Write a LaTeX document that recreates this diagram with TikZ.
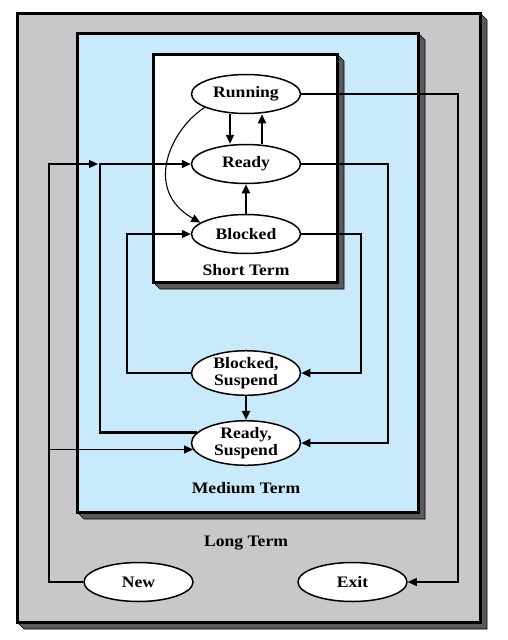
\documentclass[tikz,border=0pt]{standalone}
\usepackage{fontspec}
\setmainfont{Liberation Serif}[FakeStretch=1.1]
\usetikzlibrary{shapes.geometric,arrows.meta}
\definecolor{greybg}{HTML}{C8C8CA}
\definecolor{bluebg}{HTML}{C8EAFA}
\definecolor{shadowc}{HTML}{5A5A5A}
\begin{document}
\begin{tikzpicture}[x=1pt,y=-1pt,
  st/.style={ellipse, draw=black, line width=1.5pt, fill=white, minimum width=109pt, minimum height=39pt, inner sep=0pt, align=center, font=\bfseries\fontsize{16}{17}\selectfont},
  lbl/.style={font=\bfseries\fontsize{16}{17}\selectfont, inner sep=0pt},
  thk/.style={line width=2.2pt, -{Triangle[length=9pt,width=8pt]}},
  thn/.style={line width=1.1pt, -{Triangle[length=9pt,width=8pt]}},
  boxb/.style={draw=black, line width=3pt},
  shd/.style={fill=shadowc, draw=black, line width=0.6pt}
]
\useasboundingbox (0,0) rectangle (508,640);
\fill[white] (0,0) rectangle (508,640);
% outer box
\draw[shd] (480,13) -- (487,20) -- (487,629) -- (24,629) -- (17,622) -- cycle;
\draw[boxb, fill=greybg] (17,13) rectangle (480,622);
% medium box
\draw[shd] (418,33) -- (425,40) -- (425,519) -- (84,519) -- (77,512) -- cycle;
\draw[boxb, fill=bluebg] (77,33) rectangle (418,512);
% short box
\draw[shd] (337,54) -- (344,61) -- (344,289) -- (160,289) -- (153,282) -- cycle;
\draw[boxb, fill=white] (153,54) rectangle (337,282);

\node[lbl] (lst) at (246,270) {Short Term};
\node[lbl] (lmt) at (246,488) {Medium Term};
\node[lbl] (llt) at (246,543) {Long Term};

\node[st] (run) at (246,94) {Running};
\node[st] (rdy) at (246,164) {Ready};
\node[st] (blk) at (246,234) {Blocked};
\node[st] (bsus) at (246,373) {Blocked,\\Suspend};
\node[st] (rsus) at (246,443) {Ready,\\Suspend};
\node[st] (new) at (138.5,582) {New};
\node[st] (exit) at (352.5,582) {Exit};

\coordinate (j1) at (98,164);

% short-term transitions
\draw[thk] ([xshift=-16pt]run.south) -- ([xshift=-16pt]rdy.north);
\draw[thk] ([xshift=16pt]rdy.north) -- ([xshift=16pt]run.south);
\draw[thk] (blk.north) -- (rdy.south);
\draw[thn] (run.198) .. controls (170,130) and (143,190) .. (blk.166);

% medium-term transitions
\draw[thk] (rdy.east) -- (388,164) |- (rsus.east);
\draw[thk] (blk.east) -- (361,234) |- (bsus.east);
\draw[thk] (bsus.west) -- (127,373) |- (blk.west);
\draw[thk] (rsus.168) -| (100,164) -- (rdy.west);
\draw[thk] (bsus.south) -- (rsus.north);

% long-term transitions
\draw[thn] (new.west) -| (49,164) -- (j1);
\draw[thn] (rsus.187 -| 49,0) -- (rsus.187);
\draw[thn] (run.east) -- (458,94) |- (exit.east);
\end{tikzpicture}
\end{document}
